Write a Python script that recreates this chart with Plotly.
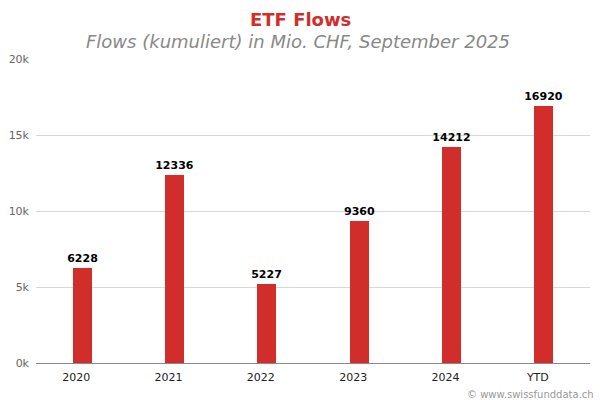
import plotly.graph_objects as go

categories = ["2020", "2021", "2022", "2023", "2024", "YTD"]
flows = [6228, 12336, 5227, 9360, 14212, 16920]
y_tickvals = [0, 5000, 10000, 15000, 20000]
y_ticktext = ["0k", "5k", "10k", "15k", "20k"]

RED = "#d12e2b"
FONT = "DejaVu Sans"

W, H = 600, 400
PL, PR, PT, PB = 36, 590, 59, 363   # plot area in page pixels
L, T, R, B = PL, PT, W - PR, H - PB
pw = W - L - R
ph = H - T - B


def px_to_paper(px, py):
    return (px - PL) / pw, 1 - (py - PT) / ph


fig = go.Figure(go.Bar(
    x=categories, y=flows,
    marker=dict(color=RED, line=dict(width=0)),
    width=0.205,
    text=[str(v) for v in flows],
    textposition="outside",
    constraintext="none",
    textfont=dict(family=FONT, size=11, color="#000000", weight="bold"),
    cliponaxis=False,
))

tx, ty = px_to_paper(300, 19)
sx, sy = px_to_paper(298, 42)
cx, cy = px_to_paper(596, 394)

fig.update_layout(
    width=W, height=H,
    margin=dict(l=L, r=R, t=T, b=B, autoexpand=False),
    paper_bgcolor="white", plot_bgcolor="white",
    showlegend=False,
    font=dict(family=FONT),
    bargap=0,
    xaxis=dict(
        type="category",
        showgrid=False,
        showline=True, linecolor="#8a8a8a", linewidth=1,
        ticks="", tickfont=dict(family=FONT, size=11, color="#222222"),
        ticklabelshift=-6,
        ticklabelstandoff=4,
        automargin=False,
    ),
    yaxis=dict(
        range=[0, 20000],
        tickvals=y_tickvals, ticktext=y_ticktext,
        showgrid=True, gridcolor="#d8d8d8", gridwidth=1,
        zeroline=False, showline=False,
        tickfont=dict(family=FONT, size=11, color="#666666"),
        ticklabelstandoff=6,
        automargin=False,
    ),
    annotations=[
        dict(text="<b>ETF Flows</b>", x=tx, y=ty, xref="paper", yref="paper",
             xanchor="center", yanchor="middle", showarrow=False,
             font=dict(family=FONT, size=18, color=RED)),
        dict(text="<i>Flows (kumuliert) in Mio. CHF, September 2025</i>", x=sx, y=sy,
             xref="paper", yref="paper", xanchor="center", yanchor="middle",
             showarrow=False, font=dict(family=FONT, size=18, color="#888888")),
        dict(text="© www.swissfunddata.ch", x=cx, y=cy, xref="paper", yref="paper",
             xanchor="right", yanchor="middle", showarrow=False,
             font=dict(family=FONT, size=10, color="#999999")),
    ],
)

fig.write_html(
    "out.html",
    config={"displayModeBar": False},
    post_script="document.body.style.margin='0';document.body.style.overflow='hidden';",
)
